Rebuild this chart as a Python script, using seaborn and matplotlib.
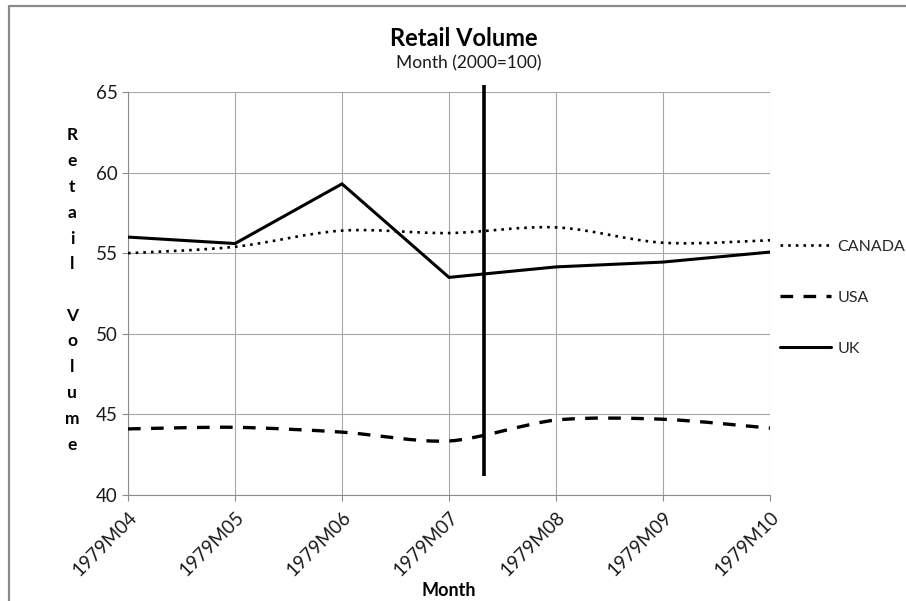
import numpy as np
import pandas as pd
import matplotlib
matplotlib.use("Agg")
import matplotlib.pyplot as plt
from matplotlib.path import Path
from matplotlib.patches import PathPatch
from matplotlib.lines import Line2D
import seaborn as sns

# Retail volume index (2000=100), monthly
months = ["1979M04", "1979M05", "1979M06", "1979M07", "1979M08", "1979M09", "1979M10"]
canada = [55.0, 55.4, 56.4, 56.25, 56.6, 55.65, 55.8]
usa = [44.1, 44.2, 43.9, 43.35, 44.65, 44.7, 44.15]
uk = [56.0, 55.6, 59.3, 53.5, 54.15, 54.45, 55.07]

# vertical reference marker between July and August
marker_x = 3.33
marker_span = (41.2, 65.45)

sns.set_theme(style="white")
plt.rcParams["font.family"] = ["Lato", "DejaVu Sans"]

fig = plt.figure(figsize=(9.06, 6.01), dpi=100)
ax = fig.add_axes([128 / 906, 1 - 495 / 601, (770 - 128) / 906, (495 - 92) / 601])

x = np.arange(len(months))
df = pd.DataFrame({"pos": x, "UK": uk})
sns.lineplot(data=df, x="pos", y="UK", ax=ax, color="black", lw=2.2,
             solid_joinstyle="miter", zorder=4)


def smooth_path(xs, ys, tension=6.0):
    """Catmull-Rom style cubic Bezier through every point."""
    pts = np.column_stack([xs, ys]).astype(float)
    ext = np.vstack([pts[0], pts, pts[-1]])
    verts = [tuple(pts[0])]
    codes = [Path.MOVETO]
    for i in range(len(pts) - 1):
        p0, p1, p2, p3 = ext[i], ext[i + 1], ext[i + 2], ext[i + 3]
        c1 = p1 + (p2 - p0) / tension
        c2 = p2 - (p3 - p1) / tension
        verts += [tuple(c1), tuple(c2), tuple(p2)]
        codes += [Path.CURVE4] * 3
    return Path(verts, codes)


ax.add_patch(PathPatch(smooth_path(x, canada), fill=False, edgecolor="black",
                       lw=1.9, linestyle=(0, (1.0, 1.9)), zorder=3))
ax.add_patch(PathPatch(smooth_path(x, usa, tension=7.0), fill=False,
                       edgecolor="black", lw=2.4, linestyle=(0, (3.8, 3.1)),
                       zorder=3))

ax.plot([marker_x, marker_x], marker_span, color="black", lw=2.6,
        clip_on=False, zorder=5, solid_capstyle="butt")

ax.set_xlim(0, len(months) - 1)
ax.set_ylim(40, 65)
ax.set_yticks([40, 45, 50, 55, 60, 65])
ax.set_xticks(x)
ax.set_xticklabels(months, rotation=45, ha="right", va="top",
                   rotation_mode="anchor")
ax.grid(True, color="#a6a6a6", lw=0.8)
for s in ["top", "right"]:
    ax.spines[s].set_visible(False)
for s in ["left", "bottom"]:
    ax.spines[s].set_color("#8c8c8c")
    ax.spines[s].set_linewidth(0.8)
ax.tick_params(axis="both", which="major", length=4.5, width=0.8,
               color="#8c8c8c", labelsize=13.5, labelcolor="#1a1a1a",
               left=True, bottom=True, direction="out")
ax.tick_params(axis="x", pad=5)
ax.tick_params(axis="y", pad=3)
ax.set_xlabel("")
ax.set_ylabel("")

fig.text(464 / 906, 1 - 38 / 601, "Retail Volume", ha="center", va="center",
         fontsize=17, fontweight="bold", color="black")
fig.text(469 / 906, 1 - 63 / 601, "Month (2000=100)", ha="center", va="center",
         fontsize=12.5, color="#1a1a1a")
fig.text(449 / 906, 1 - 590 / 601, "Month", ha="center", va="center",
         fontsize=13, fontweight="bold", color="black")
fig.text(72 / 906, 1 - 290 / 601, "\n".join("Retail Volume"), ha="center",
         va="center", fontsize=12.5, fontweight="bold", color="black",
         linespacing=1.75)

handles = [
    Line2D([], [], color="black", lw=1.9, linestyle=(0, (1.0, 1.9))),
    Line2D([], [], color="black", lw=2.4, linestyle=(0, (3.8, 3.1))),
    Line2D([], [], color="black", lw=2.2),
]
fig.legend(handles, ["CANADA", "USA", "UK"], loc="upper left",
           bbox_to_anchor=(780 / 906, 1 - 239.5 / 601), frameon=False,
           fontsize=11.5, handlelength=3.2, handletextpad=0.4,
           labelspacing=2.3, borderaxespad=0, borderpad=0)

# outer frame edges
fig.add_artist(Line2D([8.5 / 906, 1], [1 - 5.5 / 601, 1 - 5.5 / 601],
                      color="#8a8a8a", lw=1.6, transform=fig.transFigure))
fig.add_artist(Line2D([8.5 / 906, 8.5 / 906], [0, 1 - 5.5 / 601],
                      color="#8a8a8a", lw=1.6, transform=fig.transFigure))

fig.savefig("out.png", dpi=100, facecolor="white")
